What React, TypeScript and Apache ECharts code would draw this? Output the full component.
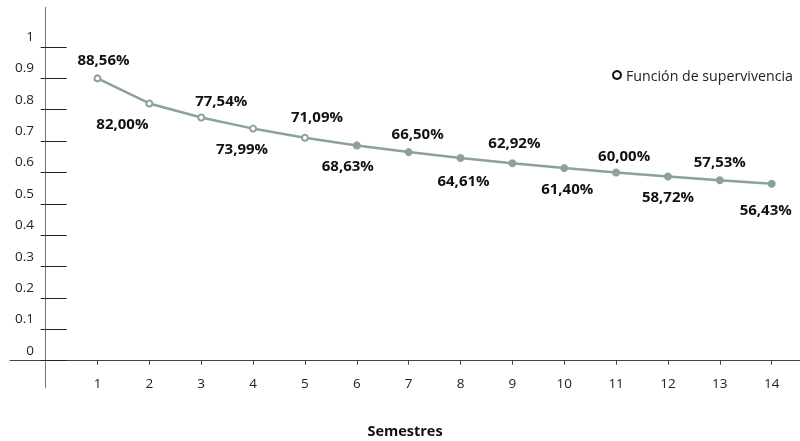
import React, { useEffect, useRef } from "react";
import * as echarts from "echarts";

const semesters = [1, 2, 3, 4, 5, 6, 7, 8, 9, 10, 11, 12, 13, 14];
const survival = [0.9, 0.82, 0.7754, 0.7399, 0.7109, 0.6863, 0.665, 0.6461, 0.6292, 0.614, 0.6, 0.5872, 0.5753, 0.5643];
const pointLabels = ["88,56%", "82,00%", "77,54%", "73,99%", "71,09%", "68,63%", "66,50%", "64,61%", "62,92%", "61,40%", "60,00%", "58,72%", "57,53%", "56,43%"];
const yTicks = [0, 0.1, 0.2, 0.3, 0.4, 0.5, 0.6, 0.7, 0.8, 0.9, 1];
const seriesName = "Función de supervivencia";
const xTitle = "Semestres";

export default function App() {
  const ref = useRef<HTMLDivElement>(null);
  useEffect(() => {
    if (!ref.current) return;
    const chart = echarts.init(ref.current, null, { renderer: "svg" });
    const font = "Open Sans";
    const lineColor = "#8c9fa1";
    const hollowCount = 5;
    const nudgeX = [6, -27, 20, -11, 12, -9, 9, 3, 2, 3, 8, 0, 0, -6];
    const nudgeY = [0, 0, 2, 0, -2, 0, 0, 2, -2, 0, 2, 0, 0, 6];
    const xMin = -0.687, xMax = 14.546, yMin = -0.0861, yMax = 1.1266;
    const gridBox = { left: 10, right: 0, top: 7.3, bottom: 53.3, containLabel: false, outerBoundsMode: "none" };

    const data = survival.map((v, i) => ({
      value: [semesters[i], v],
      symbolSize: i < hollowCount ? 6 : 8,
      itemStyle: i < hollowCount
        ? { color: "#fff", borderColor: lineColor, borderWidth: 2 }
        : { color: lineColor, borderWidth: 0 },
      label: {
        position: i % 2 === 0 ? "top" : "bottom",
        offset: [nudgeX[i], nudgeY[i]],
      },
    }));

    chart.setOption({
      animation: false,
      textStyle: { fontFamily: font },
      grid: [{ ...gridBox }, { ...gridBox }],
      legend: {
        left: 607,
        top: 63,
        icon: "circle",
        itemWidth: 8,
        itemHeight: 8,
        itemGap: 10,
        textStyle: { fontFamily: font, fontSize: 14.2, color: "#222" },
        data: [{ name: seriesName, itemStyle: { color: "#fff", borderColor: "#111", borderWidth: 2 } }],
      },
      xAxis: [
        {
          type: "value",
          gridIndex: 0,
          min: xMin,
          max: xMax,
          name: xTitle,
          nameLocation: "middle",
          nameGap: 35,
          nameTextStyle: { fontFamily: font, fontSize: 14.5, fontWeight: "bold", color: "#111" },
          axisLine: { show: true, onZero: true, onZeroAxisIndex: 0, lineStyle: { color: "#444", width: 1 } },
          axisTick: { show: true, customValues: semesters, length: 4, lineStyle: { color: "#444" } },
          axisLabel: { customValues: semesters, margin: -12, fontFamily: font, fontSize: 13.5, color: "#222" },
          splitLine: { show: false },
        },
        {
          type: "value",
          gridIndex: 1,
          min: xMin,
          max: xMax,
          axisLine: { show: false, onZero: true, onZeroAxisIndex: 1 },
          axisTick: { show: false },
          axisLabel: { show: false },
          splitLine: { show: false },
        },
      ],
      yAxis: [
        {
          type: "value",
          gridIndex: 0,
          position: "left",
          min: yMin,
          max: yMax,
          axisLine: { show: true, onZero: true, onZeroAxisIndex: 0, lineStyle: { color: "#777", width: 1 } },
          axisTick: { show: true, customValues: yTicks, length: 5, lineStyle: { color: "#222" } },
          axisLabel: {
            customValues: yTicks,
            margin: -24,
            fontFamily: font,
            fontSize: 13.5,
            color: "#222",
            verticalAlign: "bottom",
            padding: [0, 0, 4, 0],
            formatter: (v: number) => String(Math.round(v * 10) / 10),
          },
          splitLine: { show: false },
        },
        {
          type: "value",
          gridIndex: 1,
          position: "left",
          min: yMin,
          max: yMax,
          axisLine: { show: false, onZero: true, onZeroAxisIndex: 1 },
          axisTick: { show: true, inside: true, customValues: yTicks, length: 21, lineStyle: { color: "#222" } },
          axisLabel: { show: false },
          splitLine: { show: false },
        },
      ],
      series: [
        {
          name: seriesName,
          type: "line",
          xAxisIndex: 0,
          yAxisIndex: 0,
          data,
          symbol: "circle",
          lineStyle: { color: lineColor, width: 2.5 },
          itemStyle: { color: lineColor },
          label: {
            show: true,
            distance: 8,
            fontFamily: font,
            fontSize: 15,
            fontWeight: "bold",
            color: "#111",
            formatter: (p: any) => pointLabels[p.dataIndex],
          },
          z: 3,
        },
        {
          type: "line",
          xAxisIndex: 1,
          yAxisIndex: 1,
          data: [],
          silent: true,
        },
      ],
    });
    return () => chart.dispose();
  }, []);
  return <div ref={ref} style={{ position: "fixed", left: 0, top: 0, width: 800, height: 441 }} />;
}
